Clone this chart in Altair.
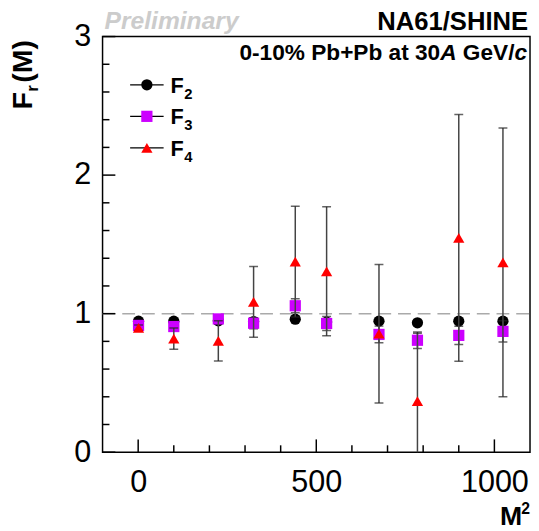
import altair as alt
import pandas as pd

# ---- data ----
m2 = [1, 100, 225, 324, 441, 529, 676, 784, 900, 1024]
f2 = [0.946, 0.946, 0.948, 0.943, 0.960, 0.939, 0.946, 0.934, 0.946, 0.946]
f2_err = [0.01, 0.01, 0.01, 0.01, 0.01, 0.01, 0.01, 0.01, 0.01, 0.01]
f3 = [0.915, 0.907, 0.962, 0.931, 1.057, 0.929, 0.850, 0.808, 0.843, 0.872]
f3_err = [0.02, 0.03, 0.02, 0.04, 0.05, 0.05, 0.06, 0.06, 0.066, 0.076]
f4 = [0.898, 0.820, 0.803, 1.085, 1.376, 1.306, 0.855, 0.368, 1.547, 1.370]
f4_err = [0.02, 0.077, 0.145, 0.255, 0.40, 0.465, 0.50, 0.49, 0.89, 0.97]

series = ["F2", "F3", "F4"]
subs = ["2", "3", "4"]
colors = ["#000000", "#cc00ff", "#ff0000"]
shapes = ["circle", "square", "triangle-up"]

x_major = [0, 500, 1000]
x_minor = [100, 200, 300, 400, 600, 700, 800, 900]
y_major = [0, 1, 2, 3]
y_minor = [0.2, 0.4, 0.6, 0.8, 1.2, 1.4, 1.6, 1.8, 2.2, 2.4, 2.6, 2.8]

W, H = 434, 422
FONT = "Liberation Sans"

xs = alt.Scale(domain=[-100, 1100], nice=False, zero=False)
ys = alt.Scale(domain=[0, 3], nice=False, zero=False)
ax_x = alt.Axis(values=x_major, format="d", title=None, ticks=False, domain=False, grid=False,
                labelFont=FONT, labelFontSize=31, labelColor="#000000", labelPadding=16,
                labelOverlap=False)
ax_y = alt.Axis(values=y_major, format="d", title=None, ticks=False, domain=False, grid=False,
                labelFont=FONT, labelFontSize=31, labelColor="#000000", labelPadding=12)


def X(f):
    return alt.X(f, scale=xs, axis=ax_x, title=None)


def Y(f):
    return alt.Y(f, scale=ys, axis=ax_y, title=None)


layers = []

# dashed reference line at 1
ref = pd.DataFrame({"m2": [-100, 1100], "v": [1, 1]})
layers.append(
    alt.Chart(ref).mark_line(color="#aaaaaa", strokeWidth=1.5, strokeDash=[13, 7]).encode(
        x=X("m2:Q"), y=Y("v:Q"))
)

# inward ticks
layers.append(alt.Chart(pd.DataFrame({"t": x_major})).mark_rule(color="black", strokeWidth=1.5).encode(
    x=X("t:Q"), y=alt.value(H), y2=alt.value(H - 13)))
layers.append(alt.Chart(pd.DataFrame({"t": x_minor})).mark_rule(color="black", strokeWidth=1.5).encode(
    x=X("t:Q"), y=alt.value(H), y2=alt.value(H - 7)))
layers.append(alt.Chart(pd.DataFrame({"t": y_major})).mark_rule(color="black", strokeWidth=1.5).encode(
    y=Y("t:Q"), x=alt.value(0), x2=alt.value(13)))
layers.append(alt.Chart(pd.DataFrame({"t": y_minor})).mark_rule(color="black", strokeWidth=1.5).encode(
    y=Y("t:Q"), x=alt.value(0), x2=alt.value(7)))

# data series
for name, vals, errs, col, shp in zip(series, [f2, f3, f4], [f2_err, f3_err, f4_err], colors, shapes):
    d = pd.DataFrame({"m2": m2, "v": vals, "lo": [v - e for v, e in zip(vals, errs)],
                      "hi": [v + e for v, e in zip(vals, errs)]})
    base = alt.Chart(d)
    layers.append(base.mark_rule(color="#444444", strokeWidth=1.5, clip=True).encode(
        x=X("m2:Q"), y=Y("lo:Q"), y2="hi:Q"))
    layers.append(base.mark_tick(color="#222222", thickness=1.5, size=9, orient="horizontal", clip=True).encode(
        x=X("m2:Q"), y=Y("lo:Q")))
    layers.append(base.mark_tick(color="#222222", thickness=1.5, size=9, orient="horizontal", clip=True).encode(
        x=X("m2:Q"), y=Y("hi:Q")))
    layers.append(base.mark_point(shape=shp, filled=True, color=col, size=130, opacity=1).encode(
        x=X("m2:Q"), y=Y("v:Q")))

# legend (drawn by hand)
leg_y = [49, 81, 113]
for i, (name, sub, col, shp) in enumerate(zip(series, subs, colors, shapes)):
    yy = leg_y[i]
    one = alt.Chart(pd.DataFrame({"lab": ["F"], "sub": [sub]}))
    layers.append(one.mark_rule(color="black", strokeWidth=1.2).encode(
        x=alt.value(28), x2=alt.value(62), y=alt.value(yy)))
    layers.append(one.mark_point(shape=shp, filled=True, color=col, size=130, opacity=1).encode(
        x=alt.value(45), y=alt.value(yy)))
    layers.append(one.mark_text(font=FONT, fontSize=22, fontWeight="bold", align="left",
                                baseline="alphabetic", color="black").encode(
        text="lab:N", x=alt.value(69), y=alt.value(yy + 8)))
    layers.append(one.mark_text(font=FONT, fontSize=15, fontWeight="bold", align="left",
                                baseline="alphabetic", color="black").encode(
        text="sub:N", x=alt.value(83), y=alt.value(yy + 14)))


# header texts
def txt(s, x, y, size, align="left", weight="bold", style="normal", color="black", angle=0):
    return alt.Chart(pd.DataFrame({"s": [s]})).mark_text(
        font=FONT, fontSize=size, fontWeight=weight, fontStyle=style, align=align,
        baseline="alphabetic", color=color, angle=angle).encode(text="s:N", x=alt.value(x), y=alt.value(y))


layers.append(txt("Preliminary", 2, -8, 25, style="italic", color="#cccccc"))
layers.append(txt("NA61/SHINE", 432, -7, 26, align="right"))

# subtitle with italic parts, laid out right to left
fs = 23
layers.append(txt("c", 431, 24, fs, align="right", style="italic"))
layers.append(txt("GeV/", 431 - 0.556 * fs, 24, fs, align="right"))
layers.append(txt("A", 431 - (0.556 + 2.279 + 0.278) * fs, 24, fs, align="right", style="italic"))
layers.append(txt("0-10% Pb+Pb at 30", 431 - (0.556 + 2.279 + 0.278 + 0.722) * fs, 24, fs, align="right"))

# y title F_r(M), rotated
layers.append(txt("F", -72, 74, 29, angle=270))
layers.append(txt("r", -66, 56, 17, angle=270))
layers.append(txt("(M)", -72, 47, 29, angle=270))

# x title M^2
layers.append(txt("M", 426, 496, 27, align="right"))
layers.append(txt("2", 434, 485, 16, align="right"))

chart = alt.layer(*layers).properties(
    width=W, height=H,
    autosize=alt.AutoSizeParams(type="none"),
    padding={"left": 96, "top": 25, "right": 1, "bottom": 76},
    background="white",
).configure_view(stroke="black", strokeWidth=1.5)

chart.save("out.html", embed_options={"renderer": "svg", "actions": False})
